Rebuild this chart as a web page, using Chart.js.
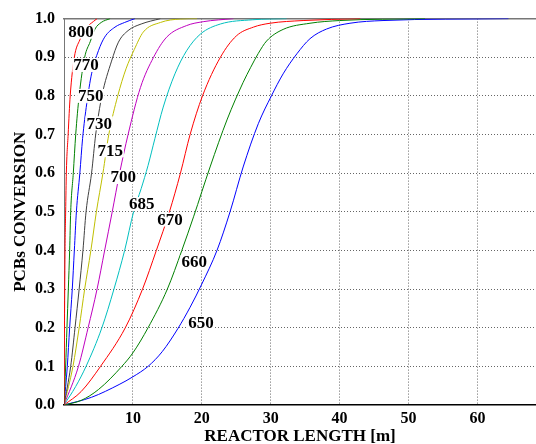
<!DOCTYPE html>
<html lang="en">
<head>
    <meta charset="UTF-8">
    <title>PCBs conversion vs reactor length</title>
    <script src="https://cdn.jsdelivr.net/npm/chart.js"></script>
    <style>
        html, body { margin: 0; padding: 0; background: #fff; }
        #chart { display: block; }
    </style>
</head>
<body>
<canvas id="chart" width="536" height="444"></canvas>

<script>
    // curves: [reactor length (m), conversion]
    const t800 = [[0, 0], [0.05, 0.15], [0.15, 0.4], [0.24, 0.5], [0.34, 0.6], [0.6, 0.7], [0.9, 0.8], [1.5, 0.9], [2.3, 0.945], [3.2, 0.975], [4.3, 0.993], [4.8, 1.0]];
    const t770 = [[0, 0], [0.24, 0.1], [0.43, 0.2], [0.63, 0.3], [0.82, 0.4], [0.97, 0.5], [1.35, 0.6], [1.7, 0.7], [2.2, 0.8], [3.0, 0.9], [3.8, 0.94], [4.5, 0.973], [5.4, 0.99], [6.7, 1.0]];
    const t750 = [[0, 0], [0.48, 0.1], [0.82, 0.2], [1.2, 0.3], [1.5, 0.4], [1.8, 0.5], [2.3, 0.6], [2.7, 0.69], [3.3, 0.78], [4.0, 0.857], [5.0, 0.917], [5.9, 0.952], [7.4, 0.978], [8.8, 0.99], [10.3, 1.0]];
    const t730 = [[0, 0], [0.97, 0.1], [1.6, 0.2], [2.2, 0.3], [2.75, 0.4], [3.2, 0.5], [4.0, 0.6], [4.6, 0.7], [5.5, 0.8], [6.9, 0.89], [7.9, 0.939], [9.3, 0.969], [11.2, 0.986], [14, 1.0]];
    const t715 = [[0, 0], [1.3, 0.1], [2.2, 0.2], [3.0, 0.3], [3.9, 0.4], [4.7, 0.5], [5.65, 0.6], [6.5, 0.7], [7.8, 0.8], [9.0, 0.87], [10.2, 0.92], [11.5, 0.965], [14, 0.99], [16.9, 0.999], [19.3, 1.0]];
    const t700 = [[0, 0], [2.1, 0.1], [3.5, 0.2], [4.8, 0.3], [5.9, 0.4], [7.0, 0.5], [8.07, 0.6], [9.3, 0.7], [11.1, 0.822], [13.0, 0.9], [14.9, 0.952], [17.8, 0.982], [20.2, 0.992], [24.6, 1.0]];
    const t685 = [[0, 0], [1.7, 0.048], [3.2, 0.1], [5.5, 0.2], [7.25, 0.3], [8.8, 0.4], [10.1, 0.5], [11.2, 0.56], [12.2, 0.62], [13.2, 0.69], [14.4, 0.771], [16.1, 0.857], [17.8, 0.917], [19.8, 0.96], [22.7, 0.986], [27.4, 0.997], [32.3, 1.0]];
    const t670 = [[0, 0], [2.5, 0.035], [5.3, 0.1], [8.9, 0.2], [11.4, 0.3], [13.4, 0.4], [15.3, 0.5], [16.9, 0.6], [18.3, 0.7], [20.1, 0.8], [22.7, 0.9], [25.0, 0.955], [27.5, 0.978], [29.9, 0.988], [34.7, 0.995], [43, 1.0]];
    const t660 = [[0, 0], [2.5, 0.012], [5.0, 0.04], [8.4, 0.1], [10, 0.135], [12.2, 0.2], [15.0, 0.3], [17.1, 0.4], [18.8, 0.487], [21.2, 0.616], [23.7, 0.74], [26.0, 0.835], [27.1, 0.874], [28.2, 0.91], [29.4, 0.942], [31.8, 0.972], [35.7, 0.988], [40, 0.995], [52.4, 1.0]];
    const t650 = [[0, 0], [4.0, 0.02], [8.0, 0.053], [10, 0.073], [12.2, 0.1], [14.25, 0.138], [16.5, 0.197], [18.3, 0.253], [20, 0.313], [22.2, 0.4], [24.1, 0.5], [26.0, 0.616], [28.2, 0.728], [30.1, 0.8], [31.8, 0.857], [33.8, 0.909], [35.7, 0.948], [38.1, 0.973], [41.5, 0.988], [46.3, 0.995], [64.5, 1.0]];

    const curveNames = ['800', '770', '750', '730', '715', '700', '685', '670', '660', '650'];
    const curves = [t800, t770, t750, t730, t715, t700, t685, t670, t660, t650];
    const curveColors = ['#ff0000', '#008000', '#0000ff', '#404040', '#bfbf00', '#bf00bf', '#00bfbf', '#ff0000', '#008000', '#0000ff'];

    // where each temperature label sits, in data units
    const labelPos = [[2.45, 0.966], [3.2, 0.88], [3.9, 0.80], [5.1, 0.729], [6.7, 0.659], [8.6, 0.59], [11.3, 0.52], [15.4, 0.48], [18.9, 0.37], [19.9, 0.212]];

    const xTicks = [10, 20, 30, 40, 50, 60];
    const yTicks = [0, 0.1, 0.2, 0.3, 0.4, 0.5, 0.6, 0.7, 0.8, 0.9, 1.0];

    const serif = '"Liberation Serif", "Times New Roman", serif';

    const curveLabels = {
        id: 'curveLabels',
        afterDatasetsDraw(chart) {
            const c = chart.ctx;
            const xs = chart.scales.x;
            const ys = chart.scales.y;
            c.save();
            c.font = 'bold 17px ' + serif;
            c.textAlign = 'center';
            c.textBaseline = 'middle';
            labelPos.forEach((p, i) => {
                const px = xs.getPixelForValue(p[0]);
                const py = ys.getPixelForValue(p[1]);
                const w = c.measureText(curveNames[i]).width;
                c.fillStyle = '#fff';
                c.fillRect(px - w / 2 - 1, py - 7, w + 2, 14);
                c.fillStyle = '#000';
                c.fillText(curveNames[i], px, py + 1);
            });
            c.restore();
        }
    };

    const ctx = document.getElementById('chart').getContext('2d');

    new Chart(ctx, {
        type: 'line',
        data: {
            datasets: curves.map((pts, i) => ({
                label: curveNames[i],
                data: pts.map(p => ({x: p[0], y: p[1]})),
                borderColor: curveColors[i],
                borderWidth: 1,
                pointRadius: 0,
                fill: false,
                cubicInterpolationMode: 'monotone'
            }))
        },
        options: {
            responsive: false,
            animation: false,
            layout: {padding: {top: 18, right: 0, bottom: 0, left: 0}},
            plugins: {
                legend: {display: false},
                tooltip: {enabled: false}
            },
            scales: {
                x: {
                    type: 'linear',
                    min: 0,
                    max: 68.5,
                    afterBuildTicks: axis => { axis.ticks = xTicks.map(v => ({value: v})); },
                    afterFit: axis => { axis.height = 39; },
                    grid: {color: '#666', lineWidth: 1, drawTicks: false},
                    border: {color: '#000', width: 1.5, dash: [1, 2]},
                    ticks: {
                        color: '#000',
                        padding: 4,
                        maxRotation: 0,
                        font: {family: serif, size: 16, weight: 'bold'}
                    },
                    title: {
                        display: true,
                        text: 'REACTOR LENGTH [m]',
                        color: '#000',
                        padding: 0,
                        font: {family: serif, size: 17, weight: 'bold', lineHeight: 0.9}
                    }
                },
                xTop: {
                    type: 'linear',
                    position: 'top',
                    min: 0,
                    max: 1,
                    afterFit: axis => { axis.height = 0; },
                    grid: {display: false, drawTicks: false},
                    ticks: {display: false},
                    border: {color: '#777', width: 1.5}
                },
                y: {
                    min: 0,
                    max: 1,
                    afterBuildTicks: axis => { axis.ticks = yTicks.map(v => ({value: v})); },
                    afterFit: axis => { axis.width = 64; },
                    grid: {
                        color: c => (c.tick && c.tick.value > 0 && c.tick.value < 1) ? '#666' : 'rgba(0,0,0,0)',
                        lineWidth: 1,
                        drawTicks: false
                    },
                    border: {color: '#777', width: 1, dash: [1, 2]},
                    ticks: {
                        color: '#000',
                        padding: 9,
                        font: {family: serif, size: 16, weight: 'bold'},
                        callback: v => v.toFixed(1)
                    },
                    title: {
                        display: true,
                        text: 'PCBs CONVERSION',
                        color: '#000',
                        padding: {top: 12, bottom: 0},
                        font: {family: serif, size: 17, weight: 'bold', lineHeight: 1}
                    }
                }
            }
        },
        plugins: [curveLabels]
    });
</script>
</body>
</html>
